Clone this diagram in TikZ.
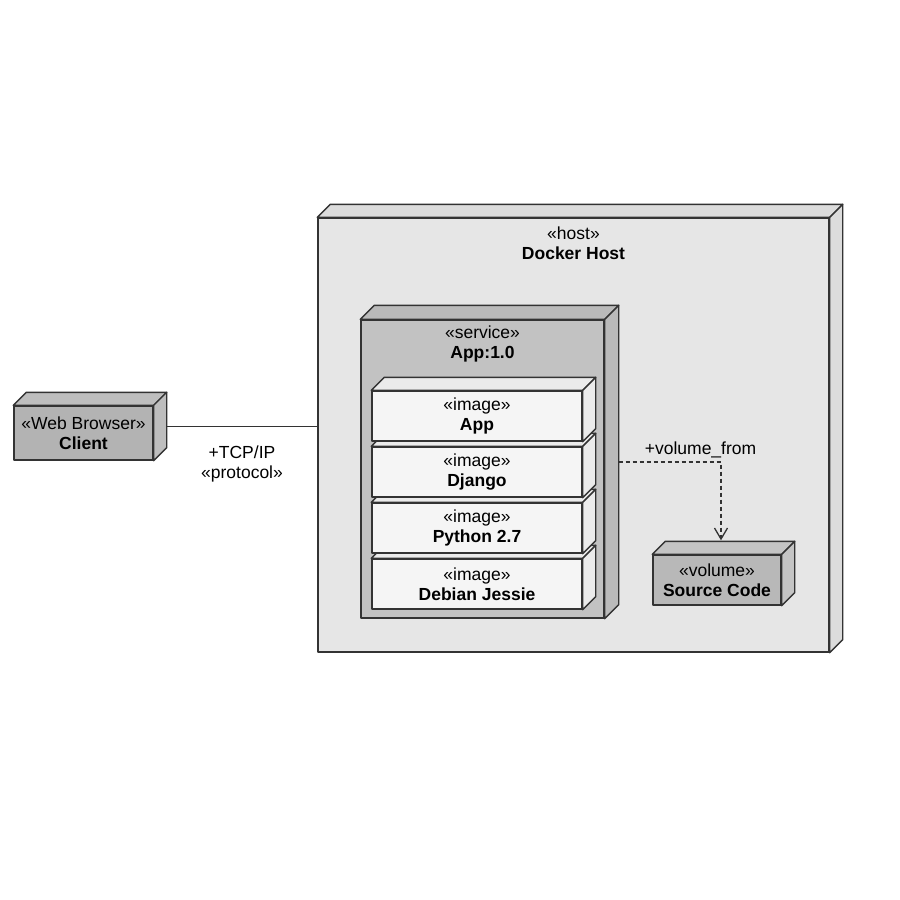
\documentclass[tikz,border=0pt]{standalone}
\usepackage{fontspec}
\setmainfont{Liberation Sans}
\usetikzlibrary{arrows.meta}

\definecolor{linegray}{HTML}{333333}
\definecolor{hostfill}{HTML}{E6E6E6}
\definecolor{hostface}{HTML}{DCDCDC}
\definecolor{servicefill}{HTML}{C2C2C2}
\definecolor{serviceface}{HTML}{BABABA}
\definecolor{imagefill}{HTML}{F5F5F5}
\definecolor{imageface}{HTML}{EBEBEB}
\definecolor{clientfill}{HTML}{B3B3B3}
\definecolor{clientface}{HTML}{BEBEBE}
\definecolor{volumefill}{HTML}{B8B8B8}
\definecolor{volumeface}{HTML}{C4C4C4}

% top and right face of a uml node box
\newcommand{\boxfaces}[3][13pt]{%
  \draw[boxline, fill=#3] (#2.north west) -- ++(#1,#1) -- ([shift={(#1,#1)}]#2.north east) -- (#2.north east) -- cycle;
  \draw[boxline, fill=#3] (#2.north east) -- ++(#1,#1) -- ([shift={(#1,#1)}]#2.south east) -- (#2.south east) -- cycle;
}

\begin{document}
\begin{tikzpicture}[
    x=1pt, y=-1pt,
    font=\fontsize{17.5}{20}\selectfont,
    boxline/.style={draw=linegray, line width=1.4pt, line join=round},
    umlnode/.style={rectangle, boxline, align=center, inner sep=2pt},
    conn/.style={draw=linegray, line width=1.3pt},
    dep/.style={conn, dash pattern=on 4pt off 3pt, -{Straight Barb[length=11pt,width=13pt]}}
]
\useasboundingbox (0,0) rectangle (900,900);

% Host
\node[umlnode, fill=hostfill, minimum width=511pt, minimum height=434pt,
      label={[anchor=north, align=center, inner sep=0pt, label distance=-9pt]north:{«host»\\\textbf{Docker Host}}}]
      (host) at (573.5,435) {};
\boxfaces{host}{hostface}

% Service
\node[umlnode, fill=servicefill, minimum width=243pt, minimum height=298pt,
      label={[anchor=north, align=center, inner sep=0pt, label distance=-6.5pt]north:{«service»\\\textbf{App:1.0}}}]
      (service) at (482.5,469) {};
\boxfaces[14pt]{service}{serviceface}

% Images (bottom first)
\node[umlnode, fill=imagefill, minimum width=210pt, minimum height=50pt] (debianimg) at (477,584) {«image»\\\textbf{Debian Jessie}};
\boxfaces{debianimg}{imageface}
\node[umlnode, fill=imagefill, minimum width=210pt, minimum height=50pt] (pythonimg) at (477,528) {«image»\\\textbf{Python 2.7}};
\boxfaces{pythonimg}{imageface}
\node[umlnode, fill=imagefill, minimum width=210pt, minimum height=50pt] (djangoimg) at (477,472) {«image»\\\textbf{Django}};
\boxfaces{djangoimg}{imageface}
\node[umlnode, fill=imagefill, minimum width=210pt, minimum height=50pt] (appimg) at (477,416) {«image»\\\textbf{App}};
\boxfaces{appimg}{imageface}

% Volume
\node[umlnode, fill=volumefill, minimum width=128pt, minimum height=50pt] (source) at (717,580) {«volume»\\\textbf{Source Code}};
\boxfaces{source}{volumeface}

% Client
\node[umlnode, fill=clientfill, minimum width=139pt, minimum height=54pt] (client) at (83.5,433) {«Web Browser»\\\textbf{Client}};
\boxfaces{client}{clientface}

% Connectors
\coordinate (tcpstart) at ([shift={(13pt,6.5pt)}]client.east);
\draw[conn] (tcpstart) -- (tcpstart -| host.west)
    node[midway, below=19pt, align=center, inner sep=0pt] {+TCP/IP\\«protocol»};
\draw[dep] ([shift={(14pt,7pt)}]service.east) -| ([shift={(4pt,14pt)}]source.north)
    node[pos=0.4, above] {+volume\_from};
\end{tikzpicture}
\end{document}
